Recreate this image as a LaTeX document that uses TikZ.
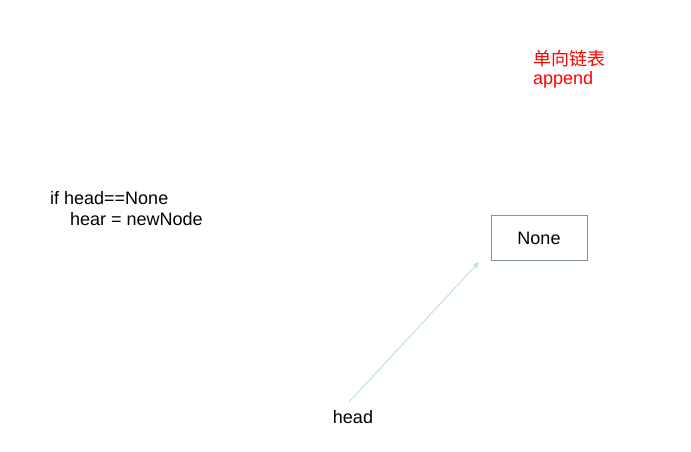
\documentclass[tikz,border=0pt]{standalone}
\usepackage{fontspec}
\setmainfont{Liberation Sans}
\newfontfamily\cjk{Noto Sans CJK SC}
\usetikzlibrary{arrows.meta}
\definecolor{boxline}{RGB}{125,150,152}
\definecolor{arrline}{RGB}{185,225,232}
\tikzset{
  txt/.style={inner sep=0pt, font=\fontsize{18}{21}\selectfont, text=black},
  redtxt/.style={inner sep=0pt, font=\fontsize{18}{21}\selectfont, text=red, anchor=west},
  valbox/.style={draw=boxline, line width=1pt, minimum width=96pt, minimum height=45pt, inner sep=0pt, font=\fontsize{18}{21}\selectfont},
  ptr/.style={draw=arrline, line width=1pt, -{Triangle[length=6pt,width=5pt]}}
}
\begin{document}
\begin{tikzpicture}[x=1pt,y=1pt]
\useasboundingbox (0,0) rectangle (691,-451);
\node[redtxt] (title) at (533,-59) {\cjk 单向链表};
\node[redtxt] (op) at (533,-80) {append};
\node[txt, anchor=west] (code1) at (50,-198) {if head==None};
\node[txt, anchor=west] (code2) at (70,-219) {hear = newNode};
\node[valbox] (none) at (539,-238) {None};
\node[txt] (head) at (353,-417) {head};
\coordinate (hs) at (349,-402);
\coordinate (ht) at (479,-262);
\draw[ptr] (hs) -- (ht);
\end{tikzpicture}
\end{document}
